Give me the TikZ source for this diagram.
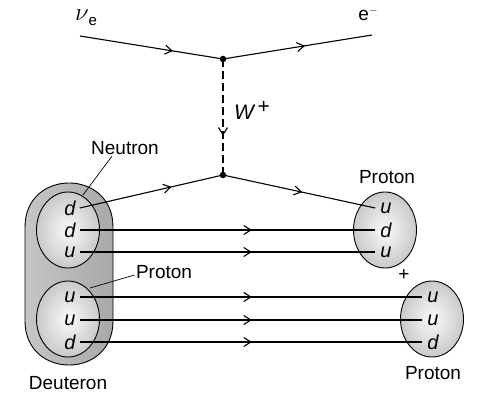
\documentclass[tikz,border=0pt]{standalone}
\usepackage{fontspec}
\setmainfont{Liberation Sans}
\usetikzlibrary{arrows.meta, positioning, shapes.geometric, decorations.markings}

\begin{document}
\begin{tikzpicture}[x=1pt, y=-1pt, font=\fontsize{19}{22}\selectfont,
    fermion/.style={line width=1.1pt, postaction={decorate},
      decoration={markings, mark=at position #1 with {\arrow{Straight Barb[length=7pt, width=9pt]}}}},
    boson/.style={line width=1.1pt, dash pattern=on 8pt off 4pt, postaction={decorate},
      decoration={markings, mark=at position #1 with {\arrow{Straight Barb[length=7pt, width=9pt]}}}},
    hadron/.style={ellipse, draw, line width=0.9pt, minimum width=63pt, minimum height=76pt,
      inner color=gray!4, outer color=gray!42},
    quark/.style={font=\fontsize{20}{22}\selectfont\itshape, inner sep=1pt},
    vtx/.style={circle, fill, inner sep=0pt, minimum size=6.5pt},
    leader/.style={line width=0.7pt}]
  \useasboundingbox (0,0) rectangle (484,396);

  % deuteron with its two nucleons
  \shade[draw, line width=0.9pt, left color=gray!45, middle color=gray!20, right color=gray!68]
    (25,321) -- (25,227) .. controls (25,168.3) and (113,168.3) .. (113,227)
    -- (113,321) .. controls (113,379.7) and (25,379.7) .. (25,321) -- cycle;
  \node[hadron] (neut) at (68,230) {};
  \node[hadron] (prot) at (68,319) {};
  \node[hadron] (pA) at (385,230) {};
  \node[hadron] (pB) at (432,319) {};

  % quarks
  \node[quark] (n1) at (70,208) {d};
  \node[quark] (n2) at (70,230) {d};
  \node[quark] (n3) at (70,252) {u};
  \node[quark] (p1) at (70,297) {u};
  \node[quark] (p2) at (70,320) {u};
  \node[quark] (p3) at (70,342) {d};
  \node[quark] (a1) at (386,208) {u};
  \node[quark] (a2) at (386,230) {d};
  \node[quark] (a3) at (386,252) {u};
  \node[quark] (b1) at (433,297) {u};
  \node[quark] (b2) at (433,320) {u};
  \node[quark] (b3) at (433,342) {d};

  % vertices and lepton ends
  \node[vtx] (vtop) at (223,59) {};
  \node[vtx] (vbot) at (223,175) {};
  \coordinate (nuin) at (80,36);
  \coordinate (eout) at (372,35);

  % lepton line and W
  \draw[fermion=0.65] (nuin) -- (vtop.center);
  \draw[fermion=0.55] (vtop.center) -- (eout);
  \draw[boson=0.66] (vtop.center) -- (vbot.center);

  % spectator quarks and d -> u
  \draw[fermion=0.64] ([xshift=3pt]n1.east) -- (vbot.center);
  \draw[fermion=0.52] (vbot.center) -- ([xshift=-4pt]a1.west);
  \foreach \s/\t in {n2/a2, n3/a3}
    \draw[fermion=172pt] ([xshift=3pt]\s.east) -- ([xshift=-4pt]\t.west);
  \foreach \s/\t in {p1/b1, p2/b2, p3/b3}
    \draw[fermion=172pt] ([xshift=3pt]\s.east) -- ([xshift=-4pt]\t.west);

  % labels
  \node (nu) at (86,18) {\fontsize{24}{26}\selectfont$\nu$\raisebox{-5pt}{\fontsize{15}{18}\selectfont e}};
  \node (el) at (368,14) {e\raisebox{7pt}{\fontsize{11}{12}\selectfont$-$}};
  \node (W) at (252,110) {\fontsize{21}{24}\selectfont\itshape W\,\raisebox{6pt}{\upshape+}};
  \node (lneut) at (125,148) {Neutron};
  \node (lprot) at (164,272) {Proton};
  \node (ldeut) at (68,383) {Deuteron};
  \node (lpA) at (387,177) {Proton};
  \node (lpB) at (433,373) {Proton};
  \node (plus) at (404,275) {+};
  \draw[leader] ([xshift=-13pt, yshift=2pt]lneut.south) -- (83,195);
  \draw[leader] ([xshift=2pt, yshift=-3pt]lprot.west) -- (90,288);
\end{tikzpicture}
\end{document}
